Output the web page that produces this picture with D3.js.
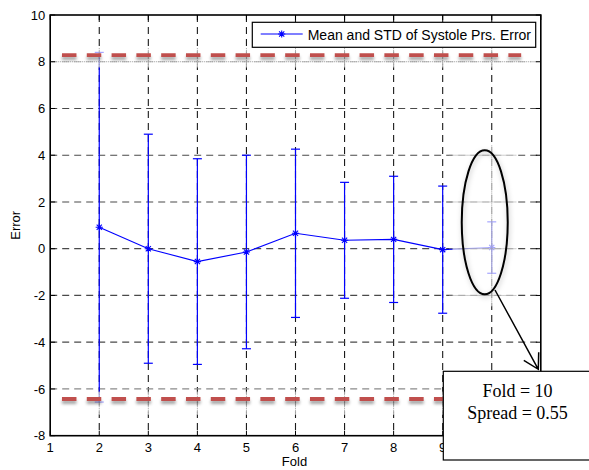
<!DOCTYPE html>
<html>
<head>
<meta charset="utf-8">
<script src="https://cdn.jsdelivr.net/npm/d3@7"></script>
<style>
  html, body { margin: 0; padding: 0; background: #fff; }
  svg { display: block; }
</style>
</head>
<body>
<script>
// Cross-validation folds and the systolic pressure error per fold
const folds     = [2, 3, 4, 5, 6, 7, 8, 9, 10];
const meanError = [0.92, 0.00, -0.55, -0.14, 0.66, 0.36, 0.40, -0.04, 0.05];
const spread    = [3.74, 2.45, 2.20, 2.07, 1.80, 1.24, 1.35, 1.36, 0.55];

// Axis ticks
const xTicks = [1, 2, 3, 4, 5, 6, 7, 8, 9, 10, 11];
const yTicks = [-8, -6, -4, -2, 0, 2, 4, 6, 8, 10];

// Overall error envelope (upper, lower)
const envelope = [8.28, -6.43];

// Highlighted fold
const highlightFold = 10;

const W = 589, H = 470;
const svg = d3.select("body").append("svg").attr("width", W).attr("height", H);
svg.append("rect").attr("width", W).attr("height", H).attr("fill", "#fff");

// Soft shadows; user-space regions so flat lines still get filtered
const defs = svg.append("defs");
const sh = defs.append("filter").attr("id", "soft").attr("filterUnits", "userSpaceOnUse")
  .attr("x", 0).attr("y", 0).attr("width", W).attr("height", H);
sh.append("feDropShadow").attr("dx", 0).attr("dy", 3).attr("stdDeviation", 1.8)
  .attr("flood-color", "#000").attr("flood-opacity", 0.35);
const sh2 = defs.append("filter").attr("id", "soft2").attr("filterUnits", "userSpaceOnUse")
  .attr("x", 0).attr("y", 0).attr("width", W).attr("height", H);
sh2.append("feDropShadow").attr("dx", 1).attr("dy", 2).attr("stdDeviation", 2.5)
  .attr("flood-color", "#000").attr("flood-opacity", 0.25);

const x = d3.scaleLinear().domain([1, 11]).range([50.2, 540.8]);
const y = d3.scaleLinear().domain([-8, 10]).range([435.7, 15]);
const [x0, x1] = x.range();
const [y0, y1] = y.range();

// Grid
const grid = svg.append("g");
grid.selectAll("line.v").data(xTicks.slice(1, -1)).join("line")
  .attr("x1", d => x(d)).attr("x2", d => x(d)).attr("y1", y1).attr("y2", y0)
  .attr("stroke", "#1a1a1a").attr("stroke-width", 1.1).attr("stroke-dasharray", "7,5");
grid.selectAll("line.h").data(yTicks.slice(1, -1)).join("line")
  .attr("x1", x0).attr("x2", x1).attr("y1", d => y(d)).attr("y2", d => y(d))
  .attr("stroke", d => d === -6 ? "#8a8a8a" : "#4a4a4a")
  .attr("stroke-width", 1.2).attr("stroke-dasharray", "7,5");

// Error bars with mean line
const pts = folds.map((f, i) => ({ f, m: meanError[i], s: spread[i] }));
const blue = "#0000ff";
const data = svg.append("g");
data.append("path").datum(pts)
  .attr("d", d3.line().x(d => x(d.f)).y(d => y(d.m)))
  .attr("fill", "none").attr("stroke", blue).attr("stroke-width", 1.1);
const bars = data.selectAll("g.bar").data(pts).join("g");
bars.append("line")
  .attr("x1", d => x(d.f)).attr("x2", d => x(d.f))
  .attr("y1", d => y(d.m + 2 * d.s)).attr("y2", d => y(d.m - 2 * d.s))
  .attr("stroke", blue).attr("stroke-width", 1.2);
[1, -1].forEach(sg => {
  bars.append("line")
    .attr("x1", d => x(d.f) - 4.5).attr("x2", d => x(d.f) + 4.5)
    .attr("y1", d => y(d.m + sg * 2 * d.s)).attr("y2", d => y(d.m + sg * 2 * d.s))
    .attr("stroke", blue).attr("stroke-width", 1.2);
});
const star = (cx, cy, r) => {
  const a = r * 0.72;
  return `M${cx - r},${cy}H${cx + r}M${cx},${cy - r}V${cy + r}` +
         `M${cx - a},${cy - a}L${cx + a},${cy + a}M${cx - a},${cy + a}L${cx + a},${cy - a}`;
};
bars.append("path").attr("d", d => star(x(d.f), y(d.m), 3.6))
  .attr("stroke", blue).attr("stroke-width", 1.1).attr("fill", "none");

// Faded zones around the envelope and the highlighted fold
const fade = svg.append("g").attr("fill", "#fff").attr("opacity", 0.65);
const bandTop = [8.58, 7.76], bandBot = [-6.12, -7.1];
const hiX = [highlightFold - 0.8, highlightFold + 0.5], hiY = [4.42, -2.46];
fade.append("rect").attr("x", x0).attr("width", x1 - x0)
  .attr("y", y(bandTop[0])).attr("height", y(bandTop[1]) - y(bandTop[0]));
fade.append("rect").attr("x", x0).attr("width", x1 - x0)
  .attr("y", y(bandBot[0])).attr("height", y(bandBot[1]) - y(bandBot[0]));
fade.append("rect").attr("x", x(hiX[0])).attr("width", x(hiX[1]) - x(hiX[0]))
  .attr("y", y(hiY[0])).attr("height", y(hiY[1]) - y(hiY[0]));

const dots = svg.append("g").attr("stroke", "#9a9a9a").attr("stroke-width", 1)
  .attr("stroke-dasharray", "1,1").attr("fill", "none");
dots.append("line").attr("x1", x0 + 2).attr("x2", x(10.8)).attr("y1", y(8)).attr("y2", y(8));
[bandTop, bandBot].forEach(b => {
  dots.selectAll(null).data(xTicks.slice(1, -1)).join("line")
    .attr("x1", d => x(d)).attr("x2", d => x(d))
    .attr("y1", y(b[0])).attr("y2", y(b[1]));
});
dots.selectAll(null).data([4, 2, 0, -2]).join("line")
  .attr("x1", x(hiX[0]) - 3).attr("x2", x(hiX[1])).attr("y1", d => y(d)).attr("y2", d => y(d));
dots.append("line").attr("x1", x(highlightFold)).attr("x2", x(highlightFold))
  .attr("y1", y(hiY[0])).attr("y2", y(hiY[1]));

// Envelope lines
svg.append("g").selectAll("line").data(envelope).join("line")
  .attr("x1", x(1.24)).attr("x2", x(10.6)).attr("y1", d => y(d)).attr("y2", d => y(d))
  .attr("stroke", "#c0504d").attr("stroke-width", 3.8).attr("stroke-dasharray", "14.5,10.3")
  .attr("filter", "url(#soft)");

// Axes box and ticks (inward)
const ax = svg.append("g").attr("stroke", "#000").attr("fill", "none");
ax.append("rect").attr("x", x0).attr("y", y1).attr("width", x1 - x0).attr("height", y0 - y1)
  .attr("stroke-width", 1.6);
xTicks.forEach(t => {
  ax.append("line").attr("x1", x(t)).attr("x2", x(t)).attr("y1", y0).attr("y2", y0 - 5);
  ax.append("line").attr("x1", x(t)).attr("x2", x(t)).attr("y1", y1).attr("y2", y1 + 5);
});
yTicks.forEach(t => {
  ax.append("line").attr("x1", x0).attr("x2", x0 + 5).attr("y1", y(t)).attr("y2", y(t));
  ax.append("line").attr("x1", x1).attr("x2", x1 - 5).attr("y1", y(t)).attr("y2", y(t));
});

const sans = "'Liberation Sans', Arial, sans-serif";
svg.append("g").selectAll("text").data(xTicks).join("text")
  .attr("x", d => x(d)).attr("y", y0 + 16).attr("text-anchor", "middle")
  .attr("font-family", sans).attr("font-size", 13).text(d => d);
svg.append("g").selectAll("text").data(yTicks).join("text")
  .attr("x", x0 - 5).attr("y", d => y(d)).attr("dy", "0.35em").attr("text-anchor", "end")
  .attr("font-family", sans).attr("font-size", 13).text(d => d);
svg.append("text").attr("x", (x0 + x1) / 2 - 1).attr("y", 466).attr("text-anchor", "middle")
  .attr("font-family", sans).attr("font-size", 13).text("Fold");
svg.append("text").attr("transform", `translate(20,${(y0 + y1) / 2}) rotate(-90)`)
  .attr("text-anchor", "middle").attr("font-family", sans).attr("font-size", 13).text("Error");

// Legend
const lg = svg.append("g");
lg.append("rect").attr("x", 252.3).attr("y", 22.3).attr("width", 283.4).attr("height", 25)
  .attr("fill", "#fff").attr("stroke", "#000").attr("stroke-width", 1.2);
lg.append("line").attr("x1", 260.7).attr("x2", 302.7).attr("y1", 34).attr("y2", 34)
  .attr("stroke", blue).attr("stroke-width", 1.1);
lg.append("path").attr("d", star(281.7, 34, 3.6)).attr("stroke", blue).attr("stroke-width", 1.1);
lg.append("text").attr("x", 307.7).attr("y", 40).attr("font-family", sans).attr("font-size", 14)
  .text("Mean and STD of Systole Prs. Error");

// Callout on the highlighted fold
const hi = pts.find(p => p.f === highlightFold);
const ecx = x(highlightFold) - 7, ecy = y(1.13);
svg.append("ellipse").attr("cx", ecx).attr("cy", ecy).attr("rx", 23).attr("ry", 72)
  .attr("fill", "none").attr("stroke", "#000").attr("stroke-width", 2).attr("filter", "url(#soft2)");
const ax0 = 495, ay0 = 290, axT = 538.3, ayT = 369.3;
const ang = Math.atan2(ayT - ay0, axT - ax0);
const wing = a => [axT - 17 * Math.cos(ang + a), ayT - 17 * Math.sin(ang + a)];
const w1 = wing(Math.PI / 6), w2 = wing(-Math.PI / 6);
svg.append("path")
  .attr("d", `M${ax0},${ay0}L${axT},${ayT}M${w1[0]},${w1[1]}L${axT},${ayT}L${w2[0]},${w2[1]}`)
  .attr("fill", "none").attr("stroke", "#000").attr("stroke-width", 1.5);

const box = svg.append("g");
box.append("rect").attr("x", 443.3).attr("y", 371.3).attr("width", 170).attr("height", 88.7)
  .attr("fill", "#fff").attr("stroke", "#000").attr("stroke-width", 1.2);
const serif = "'Liberation Serif', 'Times New Roman', serif";
box.append("text").attr("x", 517.5).attr("y", 396.7).attr("text-anchor", "middle")
  .attr("font-family", serif).attr("font-size", 18).text(`Fold = ${hi.f}`);
box.append("text").attr("x", 517.5).attr("y", 418.7).attr("text-anchor", "middle")
  .attr("font-family", serif).attr("font-size", 18).text(`Spread = ${hi.s.toFixed(2)}`);
</script>
</body>
</html>
